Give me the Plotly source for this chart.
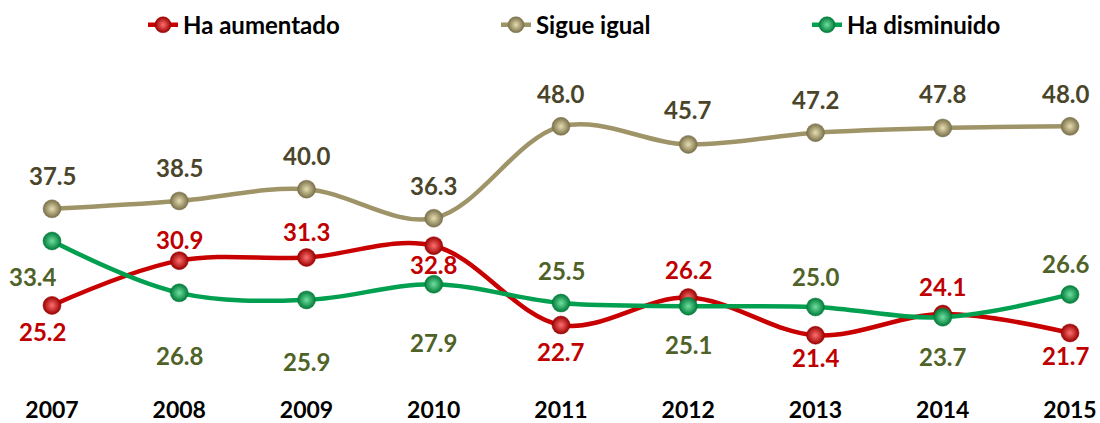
import plotly.graph_objects as go

years = [2007, 2008, 2009, 2010, 2011, 2012, 2013, 2014, 2015]
ha_aumentado = [25.2, 30.9, 31.3, 32.8, 22.7, 26.2, 21.4, 24.1, 21.7]
sigue_igual = [37.5, 38.5, 40.0, 36.3, 48.0, 45.7, 47.2, 47.8, 48.0]
ha_disminuido = [33.4, 26.8, 25.9, 27.9, 25.5, 25.1, 25.0, 23.7, 26.6]
names = ["Ha aumentado", "Sigue igual", "Ha disminuido"]

# label offsets in pixels (screen down positive) - styling only
red_dy = [26, -21, -26, 19, 26, -28, 22, -28, 23]
red_dx = [-10, 0, 0, 0, 0, 0, 0, 0, -4]
olive_dy = [-33, -33, -34, -33, -33, -35, -33, -34, -33]
olive_dx = [0, 0, 0, 0, 0, 0, 0, 0, -4]
green_dy = [35, 63, 62, 58, -33, 38, -30, 39, -31]
green_dx = [-19, 0, 0, 0, 0, 0, 0, 0, -4]

FONT = "Lato"
W, H = 1100, 423
L, R, T, B = 0, 0, 50, 35

series = [
    dict(y=ha_aumentado, name=names[0], line="#C80000", mk="#9A0000", grad="#FF7070",
         txt="#C00000", dy=red_dy, dx=red_dx, legend="legend", lx=143),
    dict(y=sigue_igual, name=names[1], line="#9E9468", mk="#7A704A", grad="#E6DDB0",
         txt="#4A452A", dy=olive_dy, dx=olive_dx, legend="legend2", lx=496),
    dict(y=ha_disminuido, name=names[2], line="#00A050", mk="#007A38", grad="#70E0A0",
         txt="#4F6228", dy=green_dy, dx=green_dx, legend="legend3", lx=807),
]

fig = go.Figure()
annotations = []
for s in series:
    fig.add_trace(go.Scatter(
        x=years, y=s["y"], name=s["name"], mode="lines+markers",
        line=dict(color=s["line"], width=4.5, shape="spline", smoothing=1.0),
        marker=dict(size=18, color=s["mk"], gradient=dict(type="radial", color=s["grad"]),
                    line=dict(width=0.5, color=s["mk"])),
        legend=s["legend"], cliponaxis=False,
    ))
    for xv, yv, dy, dx in zip(years, s["y"], s["dy"], s["dx"]):
        annotations.append(dict(
            x=xv, y=yv, text=f"{yv:.1f}", showarrow=False, xref="x", yref="y",
            yshift=-dy, xshift=dx,
            font=dict(family=FONT, size=24, color=s["txt"], weight="bold"),
        ))

px_per_year = 127.25
x0_px = 52
x_min = 2007 - x0_px / px_per_year
x_max = 2015 + (W - 1070) / px_per_year
ppu = 7.9
zero_px = 506
plot_top = T
plot_bot = H - B
y_max = (zero_px - plot_top) / ppu
y_min = (zero_px - plot_bot) / ppu

leg_y = 1 + (plot_top - 25) / (plot_bot - plot_top)
legend_common = dict(orientation="h", yanchor="middle", y=leg_y, xanchor="left",
                     font=dict(family=FONT, size=24, color="#000000", weight="bold"),
                     bgcolor="rgba(0,0,0,0)", itemwidth=30)

fig.update_layout(
    width=W, height=H,
    margin=dict(l=L, r=R, t=T, b=B),
    paper_bgcolor="white", plot_bgcolor="white",
    xaxis=dict(range=[x_min, x_max], tickmode="array", tickvals=years,
               ticktext=[str(y) for y in years], showgrid=False, zeroline=False,
               showline=False, ticks="", ticklabelstandoff=8, ticklabeloverflow="allow",
               tickfont=dict(family=FONT, size=23, color="#000000", weight="bold")),
    yaxis=dict(range=[y_min, y_max], visible=False, showgrid=False, zeroline=False),
    legend=dict(legend_common, x=series[0]["lx"] / W),
    legend2=dict(legend_common, x=series[1]["lx"] / W),
    legend3=dict(legend_common, x=series[2]["lx"] / W),
    annotations=annotations,
    showlegend=True,
)

fig.write_html(
    "out.html",
    config={"displayModeBar": False},
    post_script="document.body.style.margin='0';document.body.style.overflow='hidden';",
)
